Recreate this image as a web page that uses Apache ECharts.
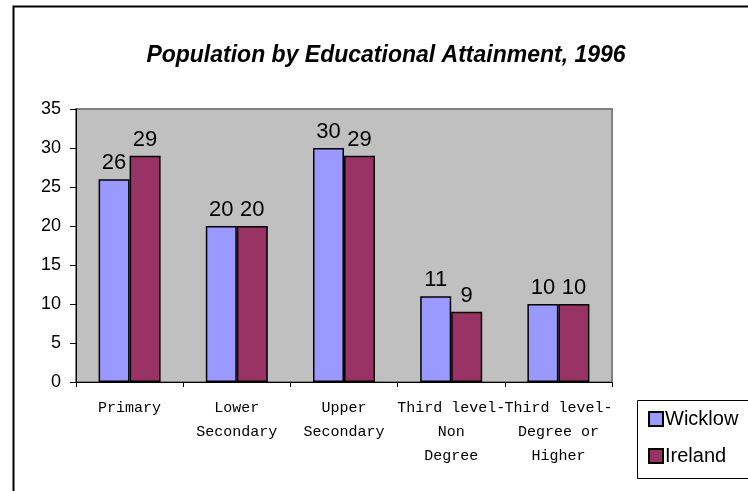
<!DOCTYPE html>
<html>
<head>
<meta charset="utf-8">
<script src="https://cdn.jsdelivr.net/npm/echarts@6/dist/echarts.min.js"></script>
<style>html,body{margin:0;padding:0;background:#fff;}#c{width:748px;height:491px;}</style>
</head>
<body>
<div id="c"></div>
<script>
const categories = ["Primary", "Lower\nSecondary", "Upper\nSecondary", "Third level-\nNon\nDegree", "Third level-\nDegree or\nHigher"];
const wicklow = [26, 20, 30, 11, 10];
const ireland = [29, 20, 29, 9, 10];
const yTicks = { min: 0, max: 35, interval: 5 };

const chart = echarts.init(document.getElementById('c'), null, { renderer: 'canvas' });
const labelStyle = { show: true, position: 'top', distance: 5, fontFamily: 'Arial, "Liberation Sans"', fontSize: 22, color: '#000' };
chart.setOption({
  animation: false,
  backgroundColor: '#fff',
  title: {
    text: 'Population by Educational Attainment, 1996',
    left: 381, top: 39, textAlign: 'center',
    textStyle: { fontFamily: 'Arial, "Liberation Sans"', fontSize: 23, fontWeight: 'bold', fontStyle: 'italic', color: '#000' }
  },
  grid: {
    left: 76, top: 109, right: 136, bottom: 109,
    show: true, backgroundColor: '#C0C0C0', borderColor: '#808080', borderWidth: 2
  },
  legend: {
    orient: 'vertical', left: 643, top: 404, itemWidth: 14, itemHeight: 14, itemGap: 17,
    icon: 'rect',
    textStyle: { fontFamily: 'Arial, "Liberation Sans"', fontSize: 20, color: '#000', padding: [0, 0, 0, -3] },
    data: ['Wicklow', 'Ireland']
  },
  xAxis: {
    type: 'category', data: categories,
    axisLine: { lineStyle: { color: '#000', width: 1 } },
    axisTick: { show: true, length: 5, alignWithLabel: false, lineStyle: { color: '#000' } },
    axisLabel: { interval: 0, margin: 14, lineHeight: 24, fontFamily: '"Courier New", "Liberation Mono", monospace', fontSize: 15, color: '#000' }
  },
  yAxis: {
    type: 'value', min: yTicks.min, max: yTicks.max, interval: yTicks.interval,
    axisLine: { show: true, lineStyle: { color: '#000', width: 1 } },
    axisTick: { show: true, length: 6, lineStyle: { color: '#000' } },
    splitLine: { show: false },
    axisLabel: { margin: 15, fontFamily: 'Arial, "Liberation Sans"', fontSize: 18, color: '#000' }
  },
  series: [
    { name: 'Wicklow', type: 'bar', data: wicklow, barWidth: 31, barGap: '0%',
      itemStyle: { color: '#9999FF', borderColor: '#000', borderWidth: 1.5 }, label: labelStyle },
    { name: 'Ireland', type: 'bar', data: ireland, barWidth: 31, barGap: '0%',
      itemStyle: { color: '#993366', borderColor: '#000', borderWidth: 1.5 }, label: labelStyle }
  ],
  graphic: [
    { type: 'rect', left: 11, top: 4, shape: { x: 0, y: 0, width: 800, height: 600 }, style: { fill: 'none', stroke: '#000', lineWidth: 2 }, silent: true, z: 100 },
    { type: 'rect', left: 635, top: 398, shape: { x: 0, y: 0, width: 130, height: 78 }, style: { fill: 'none', stroke: '#000', lineWidth: 1 }, silent: true, z: 100 }
  ]
});
</script>
</body>
</html>
